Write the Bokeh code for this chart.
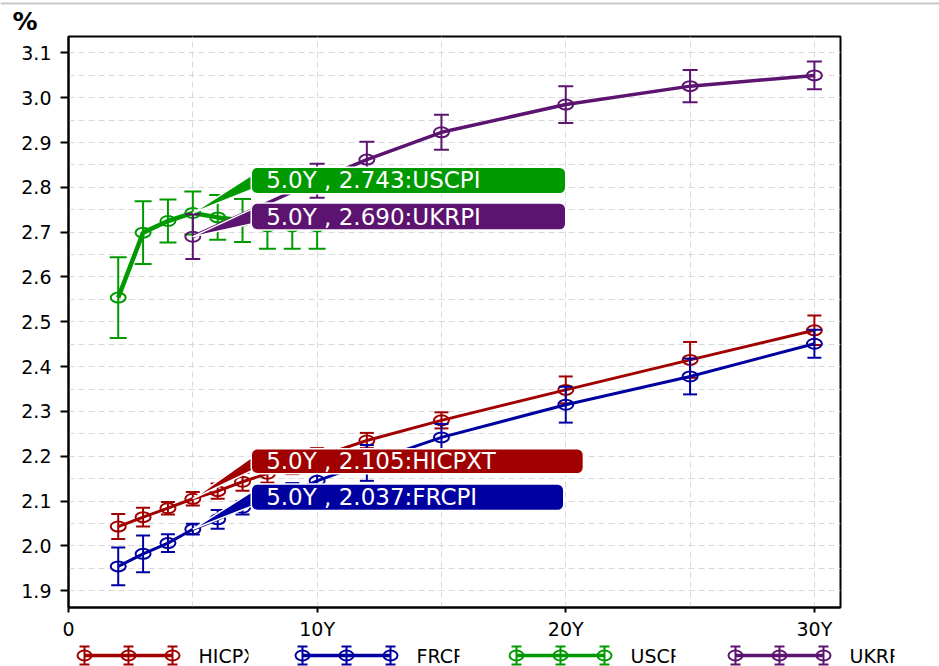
from bokeh.plotting import figure
from bokeh.layouts import column, row
from bokeh.models import Range1d, FixedTicker, SingleIntervalTicker, PrintfTickFormatter, ColumnDataSource
from bokeh.core.properties import value
from bokeh.embed import file_html
from bokeh.resources import INLINE

# ---- breakeven inflation curves by tenor (years), in % ----
tenors_eu = [2, 3, 4, 5, 6, 7, 8, 9, 10, 12, 15, 20, 25, 30]
hicpxt = [2.043, 2.064, 2.084, 2.105, 2.122, 2.143, 2.161, 2.180, 2.198, 2.235, 2.280, 2.348, 2.415, 2.481]
hicpxt_err = [0.028, 0.021, 0.014, 0.015, 0.017, 0.020, 0.020, 0.020, 0.020, 0.017, 0.018, 0.030, 0.040, 0.033]

frcpi = [1.954, 1.982, 2.006, 2.037, 2.059, 2.085, 2.100, 2.120, 2.145, 2.185, 2.242, 2.315, 2.378, 2.451]
frcpi_err = [0.042, 0.041, 0.020, 0.012, 0.021, 0.015, 0.020, 0.020, 0.020, 0.040, 0.030, 0.040, 0.040, 0.031]

tenors_us = [2, 3, 4, 5, 6, 7, 8, 9, 10]
uscpi = [2.554, 2.699, 2.725, 2.743, 2.733, 2.726, 2.713, 2.713, 2.713]
uscpi_err = [0.090, 0.070, 0.048, 0.048, 0.050, 0.048, 0.050, 0.050, 0.050]

tenors_uk = [5, 10, 12, 15, 20, 25, 30]
ukrpi = [2.690, 2.815, 2.862, 2.923, 2.985, 3.026, 3.050]
ukrpi_err = [0.050, 0.038, 0.040, 0.039, 0.041, 0.036, 0.031]

series_names = ["HICPXT", "FRCPI", "USCPI", "UKRPI"]
series_colors = ["#a00000", "#0000a0", "#009a00", "#5c1470"]

y_ticks = [1.9, 2.0, 2.1, 2.2, 2.3, 2.4, 2.5, 2.6, 2.7, 2.8, 2.9, 3.0, 3.1]
x_ticks = [0, 10, 20, 30]
x_tick_labels = ["0", "10Y", "20Y", "30Y"]
callout_tenor = 5

series = [
    (tenors_eu, hicpxt, hicpxt_err),
    (tenors_eu, frcpi, frcpi_err),
    (tenors_us, uscpi, uscpi_err),
    (tenors_uk, ukrpi, ukrpi_err),
]

# ---- styling / layout ----
FONT = "DejaVu Sans"
line_widths = [3, 3, 4.5, 3.5]
cap_sizes = [14, 14, 17, 15]
# callout boxes: (top, bottom, right) in data units; all start at the same left edge
callout_boxes = [
    (2.2165, 2.161, 20.71),
    (2.138, 2.079, 19.92),
    (2.845, 2.786, 20.0),
    (2.765, 2.705, 20.0),
]
box_left = 7.35
text_left = 7.95

W = 939

# header strip with the unit label
header = figure(width=W, height=34, x_range=Range1d(0, W), y_range=Range1d(0, 34),
                toolbar_location=None, output_backend="svg", min_border=0,
                x_axis_type=None, y_axis_type=None)
header.outline_line_color = None
header.quad(left=[0], right=[W], bottom=[30], top=[32], fill_color="#c8c8c8", line_color=None)
header.text(x=[12], y=[13.5], text=["%"], text_font=value(FONT), text_font_style="bold",
            text_font_size="25px", text_baseline="middle", text_align="left", text_color="black")

# main chart
p = figure(width=W, height=608, x_range=Range1d(0, 31.05), y_range=Range1d(1.8623, 3.1368),
           toolbar_location=None, output_backend="svg",
           min_border_left=68, min_border_right=99, min_border_top=2, min_border_bottom=35)
p.outline_line_color = "black"
p.outline_line_width = 2
p.background_fill_color = "white"

p.xaxis.ticker = FixedTicker(ticks=x_ticks)
p.xaxis.major_label_overrides = {t: l for t, l in zip(x_ticks, x_tick_labels)}
p.yaxis.ticker = FixedTicker(ticks=y_ticks)
p.yaxis.formatter = PrintfTickFormatter(format="%.1f")
for ax in (p.xaxis, p.yaxis):
    ax.axis_line_color = "black"
    ax.axis_line_width = 2
    ax.major_tick_line_color = "black"
    ax.major_tick_line_width = 2
    ax.major_tick_in = 0
    ax.minor_tick_line_color = None
    ax.major_label_text_font = FONT
    ax.major_label_text_font_size = "19px"
    ax.major_label_text_color = "black"
p.yaxis.major_tick_out = 8
p.yaxis.major_label_standoff = 9
p.xaxis.major_tick_out = 5
p.xaxis.major_label_standoff = 5

p.xgrid.ticker = SingleIntervalTicker(interval=5)
p.ygrid.ticker = SingleIntervalTicker(interval=0.05)
p.grid.grid_line_color = "#d9d9d9"
p.grid.grid_line_dash = "6 4"
p.grid.grid_line_width = 1

for (xs, ys, es), color, lw, cap in zip(series, series_colors, line_widths, cap_sizes):
    lo = [y - e for y, e in zip(ys, es)]
    hi = [y + e for y, e in zip(ys, es)]
    src = ColumnDataSource(dict(x=xs, y=ys, lo=lo, hi=hi))
    p.line("x", "y", source=src, line_color=color, line_width=lw)
    p.segment(x0="x", y0="lo", x1="x", y1="hi", source=src, line_color=color, line_width=2)
    p.scatter("x", "lo", source=src, marker="dash", size=cap, line_color=color, line_width=2)
    p.scatter("x", "hi", source=src, marker="dash", size=cap, line_color=color, line_width=2)
    p.ellipse("x", "y", source=src, width=15, height=10, width_units="screen", height_units="screen",
              fill_alpha=0, line_color=color, line_width=2)

# callouts for the 5Y point of each curve
for (xs, ys, es), name, color, (top, bottom, right) in zip(series, series_names, series_colors, callout_boxes):
    v = ys[xs.index(callout_tenor)]
    h = top - bottom
    p.patch(x=[callout_tenor, box_left + 0.4, box_left + 0.4],
            y=[v, top - 0.004, top - 0.7 * h],
            fill_color=color, line_color="white", line_width=1.5)
    p.quad(left=[box_left], right=[right], top=[top], bottom=[bottom], border_radius=6,
           fill_color=color, line_color="white", line_width=1.5)
    p.text(x=[text_left], y=[(top + bottom) / 2], text=[f"{callout_tenor:.1f}Y , {v:.3f}:{name}"],
           text_font=value(FONT), text_font_size="23px", text_color="white",
           text_baseline="middle", text_align="left")

# legend strip: one clipped cell per series
cell_bounds = [0, 290, 508, 726, W]
swatch_starts = [84, 302, 516, 735]
label_clip = [50, 43, 45, 45]
cells = []
for i, (name, color, lw) in enumerate(zip(series_names, series_colors, line_widths)):
    left, right = cell_bounds[i], cell_bounds[i + 1]
    s = swatch_starts[i]
    tx = s + 114
    clip = min(tx + label_clip[i], right)
    f = figure(width=right - left, height=24, x_range=Range1d(left, clip), y_range=Range1d(0, 24),
               toolbar_location=None, output_backend="svg", min_border=0,
               min_border_right=right - clip, x_axis_type=None, y_axis_type=None)
    f.outline_line_color = None
    sx = [s, s + 44, s + 88]
    sy = [11, 11, 11]
    f.line(sx, sy, line_color=color, line_width=3.5)
    f.segment(x0=sx, y0=[2] * 3, x1=sx, y1=[20] * 3, line_color=color, line_width=2)
    f.scatter(sx, [2] * 3, marker="dash", size=10, line_color=color, line_width=2)
    f.scatter(sx, [20] * 3, marker="dash", size=10, line_color=color, line_width=2)
    f.ellipse(sx, sy, width=14, height=10, fill_alpha=0, line_color=color, line_width=2)
    f.text(x=[tx], y=[11], text=[name], text_font=value(FONT), text_font_size="19px",
           text_color="black", text_baseline="middle", text_align="left")
    cells.append(f)

layout = column(row(header, spacing=0), p, row(*cells, spacing=0), spacing=0)
open("out.html", "w").write(file_html(layout, INLINE))
